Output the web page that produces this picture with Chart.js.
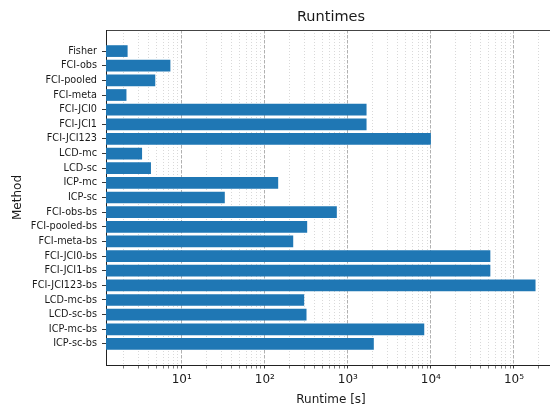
<!DOCTYPE html>
<html>
<head>
<meta charset="utf-8">
<script src="https://cdn.jsdelivr.net/npm/chart.js@4/dist/chart.umd.min.js"></script>
<style>
html,body{margin:0;padding:0;background:#fff;overflow:hidden;width:550px;height:404px;}
#wrap{position:absolute;left:0;top:0;width:560px;height:420px;}
</style>
</head>
<body>
<div id="wrap"><canvas id="c" width="560" height="420"></canvas></div>
<script>
const methods = ['Fisher','FCI-obs','FCI-pooled','FCI-meta','FCI-JCI0','FCI-JCI1','FCI-JCI123','LCD-mc','LCD-sc','ICP-mc','ICP-sc','FCI-obs-bs','FCI-pooled-bs','FCI-meta-bs','FCI-JCI0-bs','FCI-JCI1-bs','FCI-JCI123-bs','LCD-mc-bs','LCD-sc-bs','ICP-mc-bs','ICP-sc-bs'];
const runtimes = [2.23, 7.3, 4.8, 2.16, 1680, 1680, 10000, 3.33, 4.26, 145, 33, 737, 324, 220, 52000, 52000, 182000, 298, 318, 8320, 2055];
const xMin = 1.225, xMax = 321000;
const yMin = -1.44, yMax = 21.44;
const sup = {'0':'⁰','1':'¹','2':'²','3':'³','4':'⁴','5':'⁵','6':'⁶','7':'⁷','8':'⁸','9':'⁹','-':'⁻'};
function isMajor(v){ const l = Math.log10(v); return Math.abs(l - Math.round(l)) < 1e-9; }

const FONT = 'DejaVu Sans';
const TXT = '#1a1a1a';

new Chart(document.getElementById('c'), {
  type: 'bar',
  data: {
    datasets: [{
      data: methods.map((m, i) => ({x: runtimes[i], y: i})),
      backgroundColor: '#1f77b4',
      borderWidth: 0,
      categoryPercentage: 1,
      barPercentage: 0.8
    }]
  },
  options: {
    indexAxis: 'y',
    responsive: false,
    animation: false,
    devicePixelRatio: 1,
    layout: {padding: {left: 0, right: 4, top: 0, bottom: 0}},
    plugins: {
      legend: {display: false},
      tooltip: {enabled: false},
      title: {
        display: true, text: 'Runtimes', fullSize: false,
        color: TXT, font: {family: FONT, size: 14.5, weight: 'normal'},
        padding: {top: 8.3, bottom: 4.3}
      }
    },
    scales: {
      x: {
        type: 'logarithmic', position: 'bottom', min: xMin, max: xMax, z: 1,
        afterBuildTicks: (s) => {
          const t = [];
          for (let e = -1; e <= 6; e++) for (let m = 1; m <= 9; m++) {
            const v = m * Math.pow(10, e);
            if (v >= s.min && v <= s.max) t.push({value: v, major: m === 1});
          }
          s.ticks = t;
        },
        afterFit: (s) => { s.height = 55; },
        ticks: {
          autoSkip: false, maxRotation: 0, minRotation: 0, padding: 4.5,
          color: TXT, font: {family: FONT, size: 12},
          callback: (v) => isMajor(v) ? '10' + String(Math.round(Math.log10(v))).split('').map(c => sup[c]).join('') : ''
        },
        grid: {
          display: true, drawOnChartArea: true, drawTicks: true, tickLength: 3.5,
          color: (ctx) => (ctx.tick && isMajor(ctx.tick.value)) ? '#a8a8a8' : '#cfcfcf',
          lineWidth: (ctx) => (ctx.tick && isMajor(ctx.tick.value)) ? 0.9 : 0.8,
          tickColor: '#222',
          tickWidth: (ctx) => (ctx.tick && isMajor(ctx.tick.value)) ? 0.9 : 0.6
        },
        border: {
          display: true, color: '#222', width: 1,
          dash: (ctx) => (ctx.tick && isMajor(ctx.tick.value)) ? [3.5, 1.5] : [1, 2]
        },
        title: {
          display: true, text: 'Runtime [s]', color: TXT,
          font: {family: FONT, size: 12}, padding: {top: 0, bottom: 13.2}
        }
      },
      xTop: {
        type: 'logarithmic', position: 'top', min: xMin, max: xMax,
        afterFit: (s) => { s.height = 0; },
        ticks: {display: false},
        grid: {display: false, drawTicks: false},
        border: {display: true, color: '#444', width: 1}
      },
      y: {
        type: 'linear', reverse: true, min: yMin, max: yMax, bounds: 'data', offset: false, z: 1,
        afterBuildTicks: (s) => {
          s.ticks = methods.map((m, i) => ({value: i}));
          s.min = yMin; s.max = yMax;
        },
        afterFit: (s) => { s.width = 106; },
        ticks: {
          autoSkip: false, padding: 5, color: TXT,
          font: {family: FONT, size: 9.7},
          callback: (v) => methods[v] !== undefined ? methods[v] : ''
        },
        grid: {display: true, offset: false, drawOnChartArea: false, drawTicks: true, tickLength: 4, tickColor: '#222', tickWidth: 0.9},
        border: {display: true, color: '#222', width: 1},
        title: {
          display: true, text: 'Method', color: TXT,
          font: {family: FONT, size: 12}, padding: {top: 10.3, bottom: 0}
        }
      }
    }
  }
});
</script>
</body>
</html>
